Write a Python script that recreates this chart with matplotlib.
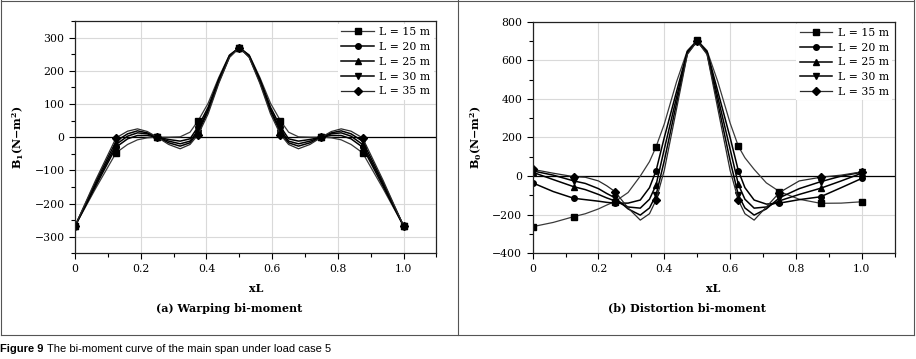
import matplotlib
matplotlib.use("Agg")
import matplotlib.pyplot as plt
from matplotlib.lines import Line2D
from matplotlib.ticker import MultipleLocator, FuncFormatter

plt.rcParams['font.family'] = ['DejaVu Serif']
plt.rcParams['mathtext.default'] = 'regular'
plt.rcParams['font.size'] = 7.5

labels = ["L = 15 m", "L = 20 m", "L = 25 m", "L = 30 m", "L = 35 m"]
markers = ["s", "o", "^", "v", "D"]

# (a) warping bi-moment
xa = [0, 0.0625, 0.125, 0.16, 0.19, 0.22, 0.25, 0.285, 0.32, 0.35, 0.375, 0.405, 0.4375, 0.47, 0.5,
      0.53, 0.5625, 0.595, 0.625, 0.65, 0.68, 0.715, 0.75, 0.78, 0.81, 0.84, 0.875, 0.9375, 1.0]
wa_15 = [-268, -155, -47, -22, -8, -2, 0, 0, 1, 15, 50, 102, 180, 248, 270,
         248, 180, 102, 50, 15, 1, 0, 0, -2, -8, -22, -47, -155, -268]
wa_20 = [-268, -148, -30, -5, 5, 5, 0, -7, -12, -5, 32, 90, 175, 246, 270,
         246, 175, 90, 32, -5, -12, -7, 0, 5, 5, -5, -30, -148, -268]
wa_25 = [-268, -142, -22, 3, 13, 10, 0, -12, -20, -12, 22, 83, 170, 244, 270,
         244, 170, 83, 22, -12, -20, -12, 0, 10, 13, 3, -22, -142, -268]
wa_30 = [-268, -136, -12, 10, 19, 13, 0, -17, -27, -17, 14, 78, 167, 242, 270,
         242, 167, 78, 14, -17, -27, -17, 0, 13, 19, 10, -12, -136, -268]
wa_35 = [-268, -130, -2, 18, 25, 17, 0, -22, -35, -22, 8, 70, 162, 240, 270,
         240, 162, 70, 8, -22, -35, -22, 0, 17, 25, 18, -2, -130, -268]
mark_a = [0, 2, 6, 10, 14, 18, 22, 26, 28]

# (b) distortion bi-moment
xb = [0, 0.0625, 0.125, 0.16, 0.2, 0.225, 0.25, 0.29, 0.327, 0.355, 0.375, 0.4, 0.4375, 0.47, 0.5,
      0.53, 0.5625, 0.6, 0.625, 0.645, 0.673, 0.71, 0.75, 0.81, 0.875, 0.9375, 1.0]
db_15 = [-262, -240, -210, -195, -170, -150, -132, -85, 0, 75, 152, 270, 490, 650, 705,
         650, 490, 275, 155, 95, 35, -35, -80, -120, -141, -140, -133]
db_20 = [-35, -80, -115, -122, -130, -136, -140, -140, -124, -60, 28, 200, 440, 645, 700,
         645, 440, 200, 28, -60, -124, -145, -140, -122, -107, -60, -12]
db_25 = [20, -18, -55, -70, -95, -113, -128, -160, -166, -120, -46, 140, 410, 640, 700,
         640, 410, 140, -43, -120, -166, -160, -128, -95, -63, -25, 15]
db_30 = [27, 5, -25, -38, -65, -90, -112, -170, -202, -165, -98, 80, 380, 635, 700,
         635, 380, 80, -98, -165, -202, -170, -112, -65, -29, 0, 20]
db_35 = [35, 15, -3, -6, -25, -50, -80, -165, -228, -195, -124, 30, 350, 630, 700,
         630, 350, 30, -124, -195, -228, -160, -85, -25, -6, 5, 22]
mark_b = [0, 2, 6, 10, 14, 18, 22, 24, 26]

colors = ["#3a3a3a", "black", "black", "black", "#2a2a2a"]
widths = [0.9, 1.1, 1.1, 1.1, 0.9]

fig = plt.figure(figsize=(9.16, 3.59), dpi=100)


def xfmt(v, pos):
    if abs(v) < 1e-9:
        return "0"
    return "%.1f" % v


def yfmt(v, pos):
    if abs(v) < 1e-9:
        return "0"
    return ("%d" % v).replace("-", "\u2212")


def style(ax, ylim, ymaj, ymin):
    ax.set_xlim(0, 1.1)
    ax.set_ylim(*ylim)
    ax.xaxis.set_major_locator(MultipleLocator(0.2))
    ax.xaxis.set_minor_locator(MultipleLocator(0.1))
    ax.xaxis.set_major_formatter(FuncFormatter(xfmt))
    ax.yaxis.set_major_locator(MultipleLocator(ymaj))
    ax.yaxis.set_minor_locator(MultipleLocator(ymin))
    ax.yaxis.set_major_formatter(FuncFormatter(yfmt))
    ax.tick_params(which='major', length=4, width=0.8, direction='out', labelsize=7.8)
    ax.tick_params(which='minor', length=3, width=0.8, direction='out')
    ax.grid(True, which='major', color='#d9d9d9', lw=0.8)
    ax.set_axisbelow(True)
    ax.axhline(0, color='black', lw=0.9)
    for s in ax.spines.values():
        s.set_color('#222222')
        s.set_linewidth(0.9)
    ax.set_xlabel("xL", fontweight='bold', fontsize=8, labelpad=7)


def draw(ax, xs, series, marks):
    for y, m, c, w, lab in zip(series, markers, colors, widths, labels):
        ax.plot(xs, y, color=c, lw=w, marker=m, markevery=marks, ms=4 if m != "D" else 3.6,
                mfc='black', mec='black', label=lab)
    leg = ax.legend(loc='upper right', fontsize=7.8, handlelength=3.0, handletextpad=0.5,
                    labelspacing=0.45, borderaxespad=0.25, frameon=True, fancybox=False,
                    borderpad=0.3)
    leg.get_frame().set_edgecolor('none')
    leg.get_frame().set_facecolor('white')
    leg.get_frame().set_alpha(1)


ax1 = fig.add_axes([0.0819, 0.2944, 0.3946, 0.6471])
style(ax1, (-350, 350), 100, 50)
draw(ax1, xa, [wa_15, wa_20, wa_25, wa_30, wa_35], mark_a)
ax1.set_ylabel("B$_1$(N\u2212m$^2$)", fontweight='bold', fontsize=8, labelpad=6)

ax2 = fig.add_axes([0.5815, 0.2944, 0.3952, 0.6452])
style(ax2, (-400, 800), 200, 100)
draw(ax2, xb, [db_15, db_20, db_25, db_30, db_35], mark_b)
ax2.set_ylabel("B$_0$(N\u2212m$^2$)", fontweight='bold', fontsize=8, labelpad=6)

fig.text(0.25, 0.142, "(a) Warping bi-moment", ha='center', va='center', fontweight='bold', fontsize=8)
fig.text(0.75, 0.142, "(b) Distortion bi-moment", ha='center', va='center', fontweight='bold', fontsize=8)

# frame
fc = '#555555'
fig.add_artist(Line2D([0.001, 0.001], [0.067, 0.999], color=fc, lw=0.8, transform=fig.transFigure))
fig.add_artist(Line2D([0.998, 0.998], [0.067, 0.999], color=fc, lw=0.8, transform=fig.transFigure))
fig.add_artist(Line2D([0.001, 0.998], [0.998, 0.998], color=fc, lw=0.8, transform=fig.transFigure))
fig.add_artist(Line2D([0.001, 0.998], [0.067, 0.067], color=fc, lw=0.8, transform=fig.transFigure))
fig.add_artist(Line2D([0.5, 0.5], [0.067, 0.999], color=fc, lw=0.8, transform=fig.transFigure))

cap_font = ['Liberation Sans', 'DejaVu Sans']
t = fig.text(0.0, 0.028, "Figure 9", ha='left', va='center', fontweight='bold', fontsize=8,
             family=cap_font)
fig.canvas.draw()
bb = t.get_window_extent()
x2 = bb.x1 / fig.bbox.width + 0.004
fig.text(x2, 0.028, "The bi-moment curve of the main span under load case 5", ha='left', va='center',
         fontsize=8, family=cap_font)

fig.savefig("out.png", dpi=100)
